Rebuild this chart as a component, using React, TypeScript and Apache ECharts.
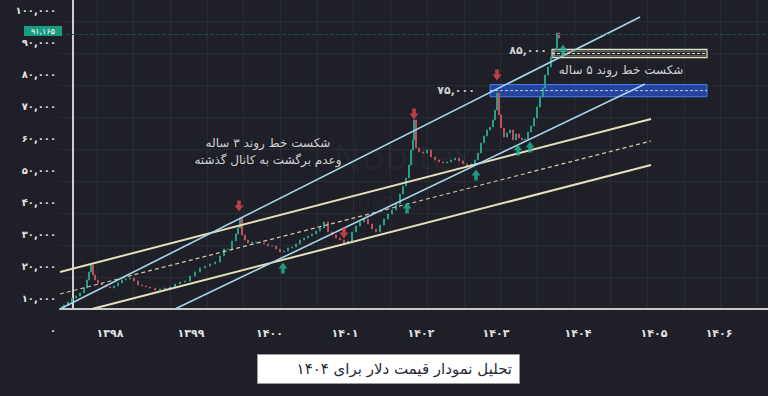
import React, { useEffect, useRef } from 'react';
import * as echarts from 'echarts';

const FA_FONT = "'DejaVu Sans', 'Noto Sans', sans-serif";
const faDigits = '۰۱۲۳۴۵۶۷۸۹';
const toFa = (s: string) => s.replace(/[0-9]/g, (d) => faDigits[Number(d)]);

// x axis unit: months counted from the start of 1397
const xMin = 4.28;
const xMax = 113.62;
const yMin = 0;
const yMax = 103125;

const yearTickMonths = [12.0, 24.51, 36.64, 48.3, 60.03, 71.62, 84.28, 96.02, 106.06];
const yearLabels = ['۱۳۹۸', '۱۳۹۹', '۱۴۰۰', '۱۴۰۱', '۱۴۰۲', '۱۴۰۳', '۱۴۰۴', '۱۴۰۵', '۱۴۰۶'];

const priceMonths = [
  4.59, 4.9, 5.52, 6.13, 6.75, 7.37, 7.99, 8.45, 8.76, 9.07,
  9.38, 9.69, 10.15, 10.77, 11.38, 12.0, 12.62, 13.24, 13.86, 14.47,
  15.09, 15.71, 16.33, 16.94, 17.56, 18.18, 18.95, 19.72, 20.5, 21.27,
  22.04, 22.81, 23.59, 24.36, 25.13, 25.9, 26.67, 27.45, 28.22, 28.99,
  29.61, 30.23, 30.84, 31.46, 31.77, 32.08, 32.39, 32.85, 33.31, 33.93,
  34.55, 35.17, 35.79, 36.4, 37.02, 37.64, 38.26, 38.87, 39.49, 40.11,
  40.73, 41.35, 41.96, 42.58, 43.2, 43.82, 44.43, 45.05, 45.67, 46.29,
  46.91, 47.52, 48.14, 48.76, 49.38, 49.99, 50.61, 51.23, 51.85, 52.47,
  53.08, 53.7, 54.32, 54.94, 55.55, 56.17, 56.79, 57.25, 57.72, 58.18,
  58.49, 58.8, 58.95, 59.26, 59.72, 60.34, 60.96, 61.58, 62.19, 62.81,
  63.43, 64.05, 64.67, 65.28, 65.9, 66.52, 67.14, 67.76, 68.37, 68.84,
  69.3, 69.76, 70.23, 70.69, 71.15, 71.46, 71.77, 72.08, 72.39, 72.85,
  73.31, 73.78, 74.24, 74.7, 75.17, 75.63, 76.1, 76.56, 77.02, 77.49,
  77.95, 78.41, 78.88, 79.19, 79.65, 80.11, 80.58, 81.04, 81.35,
];
const priceValues = [
  7190, 7810, 8750, 10000, 10630, 11560, 13130, 15630, 18130, 20310,
  17190, 15630, 14690, 14060, 13440, 13130, 13750, 14690, 15630, 15940,
  16250, 15310, 14060, 13750, 13440, 13130, 12500, 12810, 13130, 13440,
  14380, 15000, 15310, 16880, 18130, 19380, 20000, 20630, 21250, 23130,
  25310, 25310, 27810, 30000, 31880, 35000, 29690, 28130, 27190, 27500,
  27500, 27190, 26880, 26250, 26250, 25310, 24380, 24690, 25630, 25940,
  26880, 28130, 28750, 29380, 30000, 30940, 31880, 33750, 30630, 29690,
  28750, 28130, 27190, 27810, 30630, 32500, 33750, 34690, 33130, 31560,
  30630, 32810, 34690, 36250, 37500, 39380, 42500, 45000, 47500, 51560,
  56250, 59380, 65630, 56880, 55630, 55310, 56250, 54060, 53130, 52500,
  52190, 52500, 53130, 53750, 52810, 51880, 51250, 51880, 53130, 55310,
  58440, 60630, 62500, 63440, 65630, 68750, 74060, 67190, 63130, 60310,
  61560, 62500, 59380, 61250, 60000, 59380, 59690, 61880, 63750, 66250,
  69690, 72810, 75630, 79690, 82190, 85310, 87500, 92810, 91250,
];
const lastPrice = 91165;
const lastPriceLine = 92500;

// trend lines [month, value]
const blueTrendA = [[4.28, 6560], [93.86, 97810]];
const blueTrendB = [[22.04, 6560], [94.63, 76880]];
const channelUpper = [[4.28, 18130], [95.55, 65940]];
const channelMid = [[4.28, 11250], [95.55, 59060]];
const channelLower = [[9.22, 6560], [95.55, 51560]];

// zones
const zone75X = [70.69, 104.2];
const zone75Y = [72900, 76700];
const zone75Mid = 74800;
const zone85X = [80.27, 104.2];
const zone85Y = [85100, 87700];
const zone85Mid = 86400;
const zone85Inner = [85650, 87150];

// arrows
const downArrows = [[31.92, 38750], [48.14, 30310], [58.95, 67500], [71.77, 79690]];
const upArrows = [[38.72, 19380], [57.87, 38130], [68.53, 48440], [75.01, 56250], [76.87, 57190], [81.96, 87500]];

// annotations
const noteTexts = ['شکست خط روند ۵ ساله', 'شکست خط روند ۳ ساله', 'وعدم برگشت به کانال گذشته'];
const noteCoords = [[90.92, 81250], [36.4, 58440], [36.4, 53130]];
const levelTexts = ['۷۵,۰۰۰', '۸۵,۰۰۰'];
const levelCoords = [[68.37, 74690], [79.49, 87190]];
const titleText = 'تحلیل نمودار قیمت دلار برای ۱۴۰۴';

const BG = '#1e1f27';
const GRIDC = '#2a2c35';
const BLUE = '#a6d6ea';
const TAN = '#e6dfb9';

export default function App() {
  const ref = useRef<HTMLDivElement>(null);
  useEffect(() => {
    const chart = echarts.init(ref.current!, null, { renderer: 'svg' });
    const candles = priceValues.map((c, i) => {
      const o = i === 0 ? c : priceValues[i - 1];
      return [priceMonths[i], o, c, Math.min(o, c), Math.max(o, c)];
    });
    const line = (data: number[][], color: string, width: number, type: any = 'solid') => ({
      type: 'line', xAxisIndex: 0, yAxisIndex: 0, data, symbol: 'none', silent: true,
      lineStyle: { color, width, type }, z: 3, emphasis: { disabled: true },
    });
    const option: any = {
      animation: false,
      backgroundColor: BG,
      grid: [
        { left: 60, right: 0, top: 0, bottom: 66 },
        { left: 60, right: 0, top: 0, bottom: 87 },
      ],
      xAxis: [
        {
          type: 'value', gridIndex: 0, min: xMin, max: xMax,
          axisLine: { show: false }, axisTick: { show: false }, splitLine: { show: false },
          axisLabel: {
            customValues: yearTickMonths,
            formatter: (v: number) => {
              let best = 0;
              yearTickMonths.forEach((m, i) => { if (Math.abs(m - v) < Math.abs(yearTickMonths[best] - v)) best = i; });
              return yearLabels[best];
            },
            color: '#e2e2e2', fontSize: 11, fontWeight: 'bold', fontFamily: FA_FONT,
            verticalAlign: 'middle', margin: 3,
          },
        },
        {
          type: 'value', gridIndex: 1, min: -0.343, max: 18.948, interval: 1,
          axisLabel: { show: false }, axisTick: { show: false },
          axisLine: { show: true, lineStyle: { color: '#c8c8c8', width: 2 } },
          splitLine: { show: true, showMinLine: false, showMaxLine: false, lineStyle: { color: GRIDC, width: 1 } },
        },
      ],
      yAxis: [
        {
          type: 'value', gridIndex: 0, min: yMin, max: yMax, interval: 10000,
          axisLine: { show: false }, axisTick: { show: false }, splitLine: { show: false },
          axisLabel: {
            showMaxLabel: false,
            formatter: (v: number) => toFa(v.toLocaleString('en-US')),
            color: '#e2e2e2', fontSize: 10, fontWeight: 'bold', fontFamily: FA_FONT, margin: 4,
          },
        },
        {
          type: 'value', gridIndex: 1, min: 9862, max: 106425, interval: 10000,
          axisLabel: { show: false }, axisTick: { show: false },
          axisLine: { show: true, lineStyle: { color: '#cfcfcf', width: 2 } },
          splitLine: { show: true, showMinLine: false, showMaxLine: false, lineStyle: { color: GRIDC, width: 1 } },
        },
      ],
      series: [
        {
          type: 'candlestick', xAxisIndex: 0, yAxisIndex: 0, data: candles,
          encode: { x: 0, y: [1, 2, 3, 4] }, barWidth: 2, z: 2,
          itemStyle: { color: '#2a9d8a', color0: '#c0505a', borderColor: '#2a9d8a', borderColor0: '#c0505a', borderWidth: 1 },
          emphasis: { disabled: true },
          markLine: {
            silent: true, symbol: 'none', label: { show: false },
            lineStyle: { color: '#17524a', type: 'dashed', width: 1 },
            data: [{ yAxis: lastPriceLine }],
          },
          markArea: {
            silent: true,
            data: [
              [
                { xAxis: zone75X[0], yAxis: zone75Y[0], itemStyle: { color: 'rgba(37,78,190,0.78)', borderColor: '#4a7cf5', borderWidth: 1 } },
                { xAxis: zone75X[1], yAxis: zone75Y[1] },
              ],
              [
                { xAxis: zone85X[0], yAxis: zone85Y[0], itemStyle: { color: 'rgba(40,40,44,0.6)', borderColor: '#e9e4c8', borderWidth: 1.2 } },
                { xAxis: zone85X[1], yAxis: zone85Y[1] },
              ],
            ],
          },
        },
        line(channelUpper, TAN, 2),
        line(channelMid, '#cfc9ab', 1.2, [4, 3]),
        line(channelLower, TAN, 2),
        line(blueTrendA, BLUE, 1.6),
        line(blueTrendB, BLUE, 1.6),
        line([[zone75X[0], zone75Mid], [zone75X[1], zone75Mid]], '#b9c9f2', 1, [3, 2]),
        line([[zone85X[0], zone85Mid], [zone85X[1], zone85Mid]], '#e6e6e6', 1, [3, 2]),
        line([[zone85X[0], zone85Inner[0]], [zone85X[1], zone85Inner[0]]], '#8f8b7e', 1),
        line([[zone85X[0], zone85Inner[1]], [zone85X[1], zone85Inner[1]]], '#8f8b7e', 1),
        {
          type: 'scatter', xAxisIndex: 0, yAxisIndex: 0, data: downArrows, z: 6, silent: true,
          symbol: 'path://M3,0 L7,0 L7,5 L10,5 L5,11 L0,5 L3,5 Z', symbolSize: [9, 11],
          itemStyle: { color: '#e5474d' }, emphasis: { disabled: true },
        },
        {
          type: 'scatter', xAxisIndex: 0, yAxisIndex: 0, data: upArrows, z: 6, silent: true,
          symbol: 'path://M5,0 L10,6 L7,6 L7,11 L3,11 L3,6 L0,6 Z', symbolSize: [9, 11],
          itemStyle: { color: '#1fb894' }, emphasis: { disabled: true },
        },
        {
          type: 'scatter', xAxisIndex: 0, yAxisIndex: 0, z: 7, silent: true, symbolSize: 0,
          itemStyle: { color: 'transparent' }, emphasis: { disabled: true },
          data: noteCoords.map((c, i) => ({ value: c, label: { formatter: noteTexts[i] } })),
          label: { show: true, position: 'inside', color: '#ffffff', fontSize: 12, fontFamily: FA_FONT, align: 'center', verticalAlign: 'middle' },
        },
        {
          type: 'scatter', xAxisIndex: 0, yAxisIndex: 0, z: 7, silent: true, symbolSize: 0,
          itemStyle: { color: 'transparent' }, emphasis: { disabled: true },
          data: levelCoords.map((c, i) => ({ value: c, label: { formatter: levelTexts[i] } })),
          label: { show: true, position: 'inside', color: '#ffffff', fontSize: 11, fontWeight: 'bold', fontFamily: FA_FONT, align: 'right', verticalAlign: 'middle' },
        },
      ],
      graphic: [
        { type: 'text', left: 333, top: 136, z: 1, silent: true, style: { text: 'Nobitex', fill: 'rgba(255,255,255,0.045)', fontSize: 38, fontFamily: 'Noto Sans' } },
        { type: 'text', left: 357, top: 193, z: 1, silent: true, style: { text: 'USDTIRT', fill: 'rgba(255,255,255,0.045)', fontSize: 19, fontFamily: 'Noto Sans' } },
        { type: 'rect', left: 24, top: 26, z: 10, shape: { width: 38, height: 10 }, style: { fill: '#1a9c80' } },
        { type: 'text', x: 43, y: 31, z: 11, style: { text: toFa(lastPrice.toLocaleString('en-US')), fill: '#ffffff', fontSize: 8, fontFamily: FA_FONT, align: 'center', verticalAlign: 'middle' } },
        { type: 'rect', left: 257, top: 354, z: 10, shape: { width: 262, height: 29 }, style: { fill: '#ffffff', stroke: '#9a9a9a', lineWidth: 1 } },
        { type: 'text', x: 512, y: 369, z: 11, style: { text: titleText, fill: '#2a2a36', fontSize: 15, fontFamily: FA_FONT, align: 'right', verticalAlign: 'middle' } },
      ],
    };
    chart.setOption(option);
    return () => chart.dispose();
  }, []);
  return <div ref={ref} style={{ position: 'fixed', left: 0, top: 0, width: 768, height: 396 }} />;
}
